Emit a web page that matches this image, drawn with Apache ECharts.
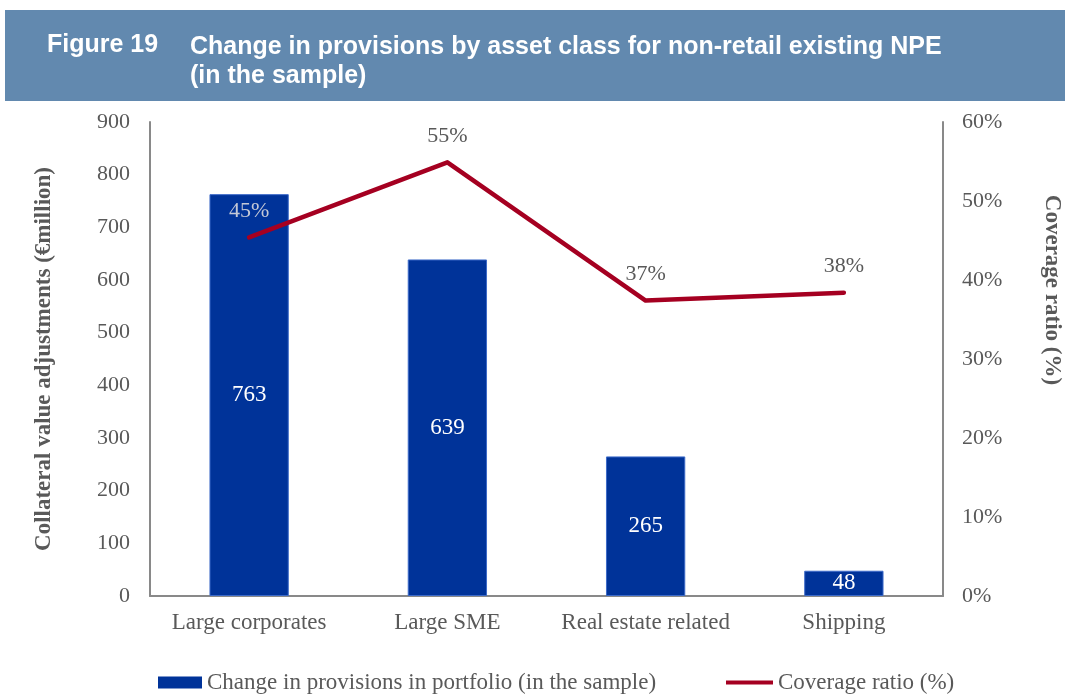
<!DOCTYPE html>
<html>
<head>
<meta charset="utf-8">
<script src="https://cdn.jsdelivr.net/npm/echarts@6/dist/echarts.min.js"></script>
<style>
  html, body { margin: 0; padding: 0; background: #ffffff; }
  #chart { width: 1065px; height: 694px; }
</style>
</head>
<body>
<div id="chart"></div>
<script>
// Asset classes on the category axis
const categories = ['Large corporates', 'Large SME', 'Real estate related', 'Shipping'];
// Change in provisions, € million
const provisions = [763, 639, 265, 48];
// Coverage ratio, %
const coverage = [45.4, 54.9, 37.4, 38.4];
// Tick values of the two value axes
const leftTicks = [0, 100, 200, 300, 400, 500, 600, 700, 800, 900];
const rightTicks = [0, 10, 20, 30, 40, 50, 60];

const barName = 'Change in provisions in portfolio (in the sample)';
const lineName = 'Coverage ratio (%)';

const serif = '"Liberation Serif", "Times New Roman", serif';
const sans = '"Liberation Sans", Arial, sans-serif';
const grey = '#595959';
const red = '#A50021';
const blue = '#003399';

const chart = echarts.init(document.getElementById('chart'));

chart.setOption({
  animation: false,
  textStyle: { fontFamily: serif },
  graphic: [
    {
      type: 'rect', left: 5, top: 10, z: 0,
      shape: { width: 1060, height: 91 },
      style: { fill: '#6289AF' }
    },
    {
      type: 'text', left: 47, top: 33, z: 1,
      style: { text: 'Figure 19', fill: '#ffffff', font: 'bold 25px ' + sans }
    },
    {
      type: 'text', left: 190, top: 33, z: 1,
      style: {
        text: 'Change in provisions by asset class for non-retail existing NPE\n(in the sample)',
        fill: '#ffffff', font: 'bold 25px ' + sans, lineHeight: 29
      }
    },
    {
      type: 'text', x: 1052, y: 290, rotation: -Math.PI / 2, z: 1,
      style: {
        text: lineName, fill: grey, font: 'bold 23px ' + serif,
        align: 'center', verticalAlign: 'middle'
      }
    }
  ],
  legend: [
    {
      data: [{ name: barName, icon: 'rect', itemStyle: { color: blue, borderWidth: 0 } }],
      left: 158, top: 671, padding: 0, itemWidth: 44, itemHeight: 12, itemGap: 5,
      textStyle: { color: grey, fontSize: 23, fontFamily: serif }
    },
    {
      data: [{ name: lineName, icon: 'rect', itemStyle: { color: red, borderWidth: 0, opacity: 1 } }],
      left: 726, top: 671, padding: 0,
      itemWidth: 47, itemHeight: 4, itemGap: 5,
      textStyle: { color: grey, fontSize: 23, fontFamily: serif }
    }
  ],
  grid: { left: 150, right: 122, top: 122, bottom: 98 },
  xAxis: {
    type: 'category',
    data: categories,
    axisLine: { lineStyle: { color: '#898989', width: 2 } },
    axisTick: { show: false },
    axisLabel: { color: grey, fontSize: 23, fontFamily: serif, margin: 15, interval: 0 }
  },
  yAxis: [
    {
      type: 'value', min: leftTicks[0], max: leftTicks[leftTicks.length - 1],
      interval: leftTicks[1] - leftTicks[0],
      name: 'Collateral value adjustments (€million)',
      nameLocation: 'middle', nameGap: 94,
      nameTextStyle: { color: grey, fontSize: 23, fontWeight: 'bold', fontFamily: serif },
      axisLine: { show: true, lineStyle: { color: '#898989', width: 2 } },
      axisTick: { show: false },
      splitLine: { show: false },
      axisLabel: { color: grey, fontSize: 22, fontFamily: serif, margin: 20 }
    },
    {
      type: 'value', position: 'right', min: rightTicks[0], max: rightTicks[rightTicks.length - 1],
      interval: rightTicks[1] - rightTicks[0],
      axisLine: { show: true, lineStyle: { color: '#898989', width: 2 } },
      axisTick: { show: false },
      splitLine: { show: false },
      axisLabel: { color: grey, fontSize: 22, fontFamily: serif, margin: 19, formatter: '{value}%' }
    }
  ],
  series: [
    {
      name: barName,
      type: 'bar',
      yAxisIndex: 0,
      data: provisions,
      barWidth: '40%',
      itemStyle: { color: blue, borderColor: '#3D6BC9', borderWidth: 1 },
      label: { show: true, position: 'inside', color: '#ffffff', fontSize: 23, fontFamily: serif }
    },
    {
      name: lineName,
      type: 'line',
      yAxisIndex: 1,
      data: coverage.map((v, i) => i === 0 ? { value: v, label: { color: '#C3C8D6' } } : v),
      symbol: 'circle',
      symbolSize: 1,
      showSymbol: true,
      lineStyle: { color: red, width: 4.5, cap: 'round', join: 'round' },
      itemStyle: { color: 'rgba(0,0,0,0)', borderWidth: 0 },
      z: 3,
      label: {
        show: true, position: 'top', distance: 15, color: grey, fontSize: 22, fontFamily: serif,
        formatter: p => Math.round(p.value) + '%'
      }
    }
  ]
});
</script>
</body>
</html>
